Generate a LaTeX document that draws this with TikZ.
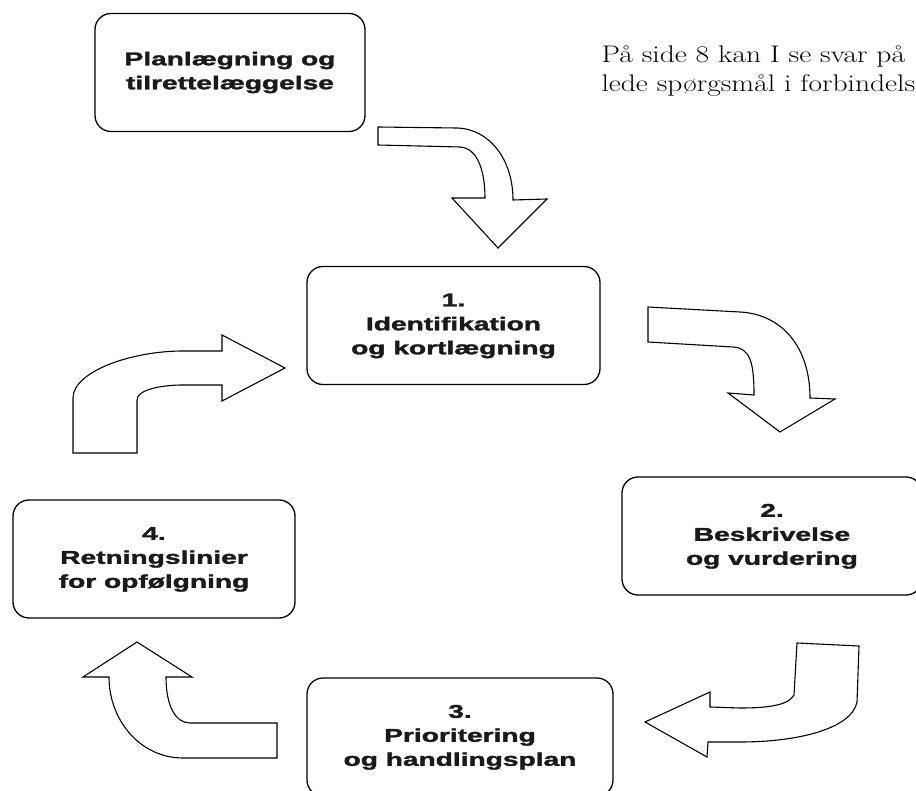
\documentclass[tikz,border=0pt]{standalone}
\usepackage{fontspec}
\newfontfamily\boxfont[BoldFeatures={FakeBold=1.5}]{Liberation Sans}
\usetikzlibrary{positioning}
\definecolor{stepLine}{HTML}{000000}
\definecolor{stepText}{HTML}{1A1A1A}

% wide bold labels in the step boxes
\newcommand\boxlabel[1]{\scalebox{1.52}[1]{\boxfont\bfseries\fontsize{18.5}{24}\selectfont
  \begin{tabular}{@{}c@{}}#1\end{tabular}}}
% serif note text (top right)
\newcommand\notetext[1]{\scalebox{1.23}[1]{\fontsize{24}{29}\selectfont #1}}

\begin{document}
\begin{tikzpicture}[x=1pt, y=-1pt,
  stepbox/.style={draw=stepLine, line width=1.3pt, rounded corners=16pt,
    minimum width=#1, minimum height=118pt, inner sep=0pt, text=stepText},
  bentarrow/.style={draw=stepLine, line width=1.1pt, fill=white, line join=miter}]

\useasboundingbox (0,0) rectangle (916,791);

% --- NOTE: text at the top right ---
\node[anchor=base west] (note1) at (598,63) {\notetext{På side 8 kan I se svar på}};
\node[anchor=base west] (note2) at (598,92) {\notetext{lede spørgsmål i forbindels}};

% --- BOXES ---
\node[stepbox=270pt] (plan) at (230,72.5)
  {\boxlabel{Planlægning og\\tilrettelæggelse}};
\node[stepbox=293pt] (s1) at (453.5,325.5)
  {\boxlabel{1.\\Identifikation\\og kortlægning}};
\node[stepbox=300pt] (s2) at (772,536)
  {\boxlabel{2.\\Beskrivelse\\og vurdering}};
\node[stepbox=306pt] (s3) at (460,737)
  {\boxlabel{3.\\Prioritering\\og handlingsplan}};
\node[stepbox=282pt] (s4) at (154,559)
  {\boxlabel{4.\\Retningslinier\\for opfølgning}};

% --- ARROWS: bent block arrows between the boxes ---
% plan -> 1
\draw[bentarrow] (378,127) -- (457,128) .. controls (490,129) and (513,160) .. (513,200)
  -- (547,199) -- (498,248) -- (452,198) -- (485,198)
  .. controls (485,172) and (478,148) .. (460,147) -- (378,145) -- cycle;
% 1 -> 2
\draw[bentarrow] (648,307) -- (740,312) .. controls (780,314) and (810,345) .. (810,398)
  -- (835,399) -- (780,432) -- (728,393) -- (754,395)
  .. controls (754,362) and (750,348) .. (733,347) -- (648,342) -- cycle;
% 2 -> 3
\draw[bentarrow] (797,643) -- (794,695) .. controls (788,706) and (765,708) .. (740,708)
  -- (710,707) -- (710,692) -- (645,722) -- (707,757) -- (708,742) -- (740,742)
  .. controls (800,742) and (852,728) .. (857,702) -- (859,646) -- cycle;
% 3 -> 4
\draw[bentarrow] (277,723) -- (190,723) .. controls (175,723) and (166,705) .. (166,677)
  -- (192,677) -- (137,642) -- (83,677) -- (109,677)
  .. controls (109,720) and (140,758) .. (183,758) -- (277,758) -- cycle;
% 4 -> 1
\draw[bentarrow] (73,453) -- (137,453) -- (137,400)
  .. controls (137,390) and (160,385) .. (183,385) -- (222,385) -- (222,401)
  -- (285,368) -- (222,335) -- (222,351) -- (183,351)
  .. controls (130,351) and (73,372) .. (73,398) -- cycle;

\end{tikzpicture}
\end{document}
